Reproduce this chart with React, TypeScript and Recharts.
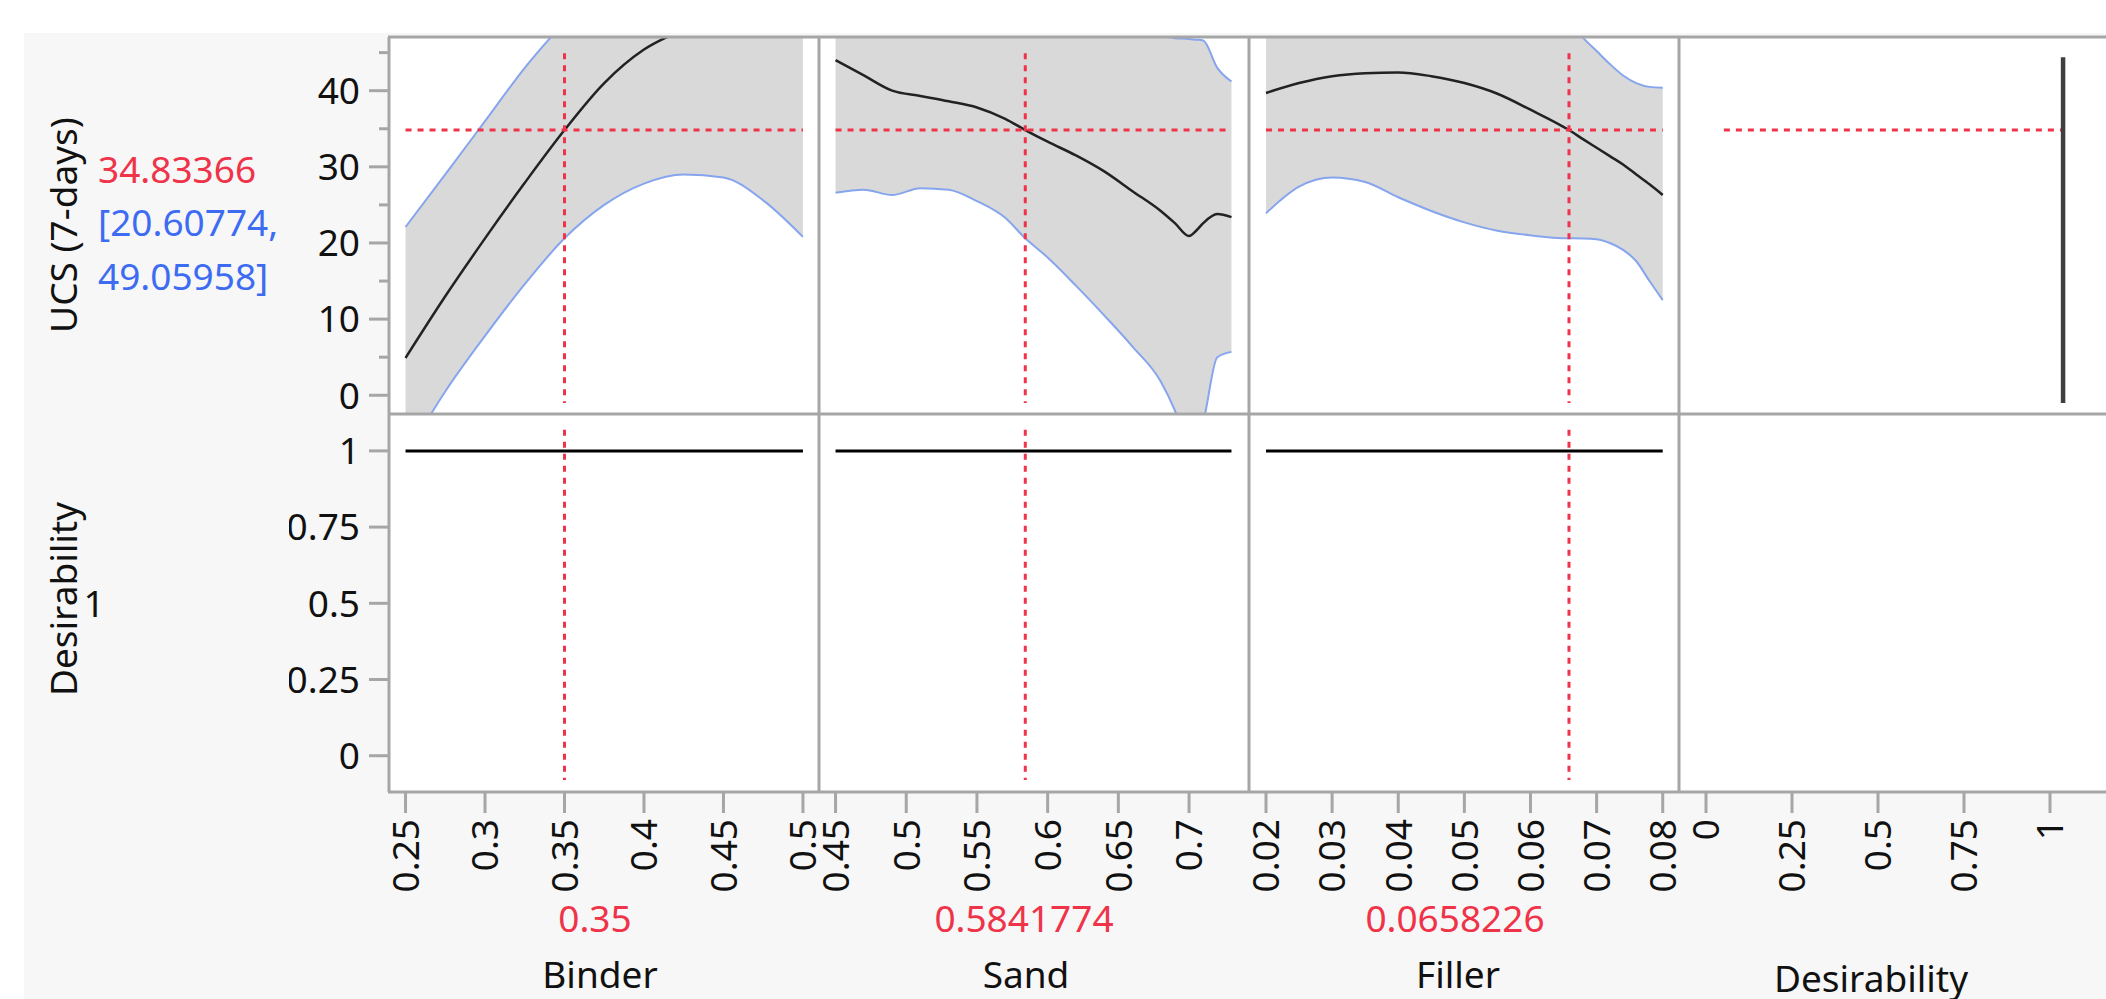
import React from 'react';
import { ComposedChart, Line, Area, XAxis, YAxis, ReferenceLine } from 'recharts';

// ---- profiler values ----
const binderX = [0.25, 0.275, 0.3, 0.325, 0.35, 0.375, 0.4, 0.425, 0.45, 0.475, 0.5];
const binderPred = [4.9, 13.0, 20.6, 27.9, 34.83, 41.0, 45.4, 48.0, 49.8, 50.8, 51.0];
const binderLower = [-8.0, 0.5, 7.8, 14.6, 20.61, 25.0, 27.8, 29.0, 28.6, 25.6, 20.8];
const binderUpper = [22.1, 29.0, 36.0, 43.0, 49.06, 55.0, 59.0, 62.0, 65.0, 70.0, 75.0];

const sandX = [0.45, 0.47, 0.49, 0.51, 0.53, 0.55, 0.57, 0.5841774, 0.6, 0.62, 0.64, 0.66, 0.68, 0.69, 0.7, 0.705, 0.71, 0.72, 0.73];
const sandPred = [44.0, 42.0, 40.0, 39.3, 38.6, 37.8, 36.3, 34.83, 33.3, 31.5, 29.4, 26.8, 24.2, 22.6, 20.9, 21.6, 22.6, 23.8, 23.4];
const sandLower = [26.6, 27.0, 26.3, 27.2, 27.0, 25.5, 23.3, 20.61, 18.1, 14.4, 10.5, 6.4, 1.8, -2.0, -7.0, -6.0, -3.5, 5.0, 5.7];
const sandUpper = [61.4, 57.0, 53.5, 51.5, 50.4, 50.0, 49.5, 49.06, 48.6, 48.3, 48.0, 47.7, 47.2, 46.9, 46.8, 46.7, 46.6, 43.0, 41.2];

const fillerX = [0.02, 0.025, 0.03, 0.035, 0.04, 0.045, 0.05, 0.055, 0.06, 0.0658226, 0.068, 0.07, 0.072, 0.074, 0.076, 0.078, 0.08];
const fillerPred = [39.7, 41.0, 41.9, 42.3, 42.4, 41.9, 41.0, 39.6, 37.5, 34.83, 33.6, 32.5, 31.4, 30.3, 29.0, 27.7, 26.3];
const fillerLower = [23.9, 27.4, 28.6, 28.0, 26.0, 24.2, 22.7, 21.6, 21.0, 20.61, 20.6, 20.5, 20.0, 19.1, 17.6, 15.0, 12.5];
const fillerUpper = [55.5, 56.0, 55.5, 56.0, 57.0, 58.0, 58.0, 56.0, 53.5, 49.06, 46.9, 45.2, 43.5, 42.0, 41.0, 40.5, 40.4];

// desirability of each factor across its range (flat at 1)
const binderDesir = [1, 1];
const sandDesir = [1, 1];
const fillerDesir = [1, 1];

// desirability function of the response (top right cell)
const desirFnD = [1.038, 1.038];
const desirFnUCS = [44.4, -1.0];

const predicted = 34.83366;
const ciLow = 20.60774;
const ciHigh = 49.05958;
const currentDesirability = 1;

const factorNames = ['Binder', 'Sand', 'Filler'];
const factorValues = [0.35, 0.5841774, 0.0658226];
const factorValueLabels = ['0.35', '0.5841774', '0.0658226'];

const binderTicks = [0.25, 0.3, 0.35, 0.4, 0.45, 0.5];
const sandTicks = [0.45, 0.5, 0.55, 0.6, 0.65, 0.7];
const fillerTicks = [0.02, 0.03, 0.04, 0.05, 0.06, 0.07, 0.08];
const desirTicks = [0, 0.25, 0.5, 0.75, 1];
const ucsTicks = [0, 5, 10, 15, 20, 25, 30, 35, 40, 45];
const ucsTickLabels: Record<number, string> = { 0: '0', 10: '10', 20: '20', 30: '30', 40: '40' };
const desirTickLabels: Record<number, string> = { 0: '0', 0.25: '0.25', 0.5: '0.5', 0.75: '0.75', 1: '1' };

// ---- look ----
const FONT = '"Noto Sans", "Open Sans", sans-serif';
const FS = 37;
const RED = '#ef3349';
const BLUE = '#3d6cf2';
const CI_BLUE = '#86a5ee';
const BAND = '#d9d9d9';
const GRID = '#a6a6a6';

const COL_LEFT = [389, 819, 1249, 1679];
const COL_W = 430;
const ROW_TOP = 37;
const ROW_MID = 414;
const ROW_BOT = 792;
const Y_AXIS_W = 100;
const X_AXIS_H = 130;

const TOP_DOMAIN: [number, number] = [-2.46, 47.05];
const BOT_DOMAIN: [number, number] = [-0.119, 1.121];
const xDomains: [number, number][] = [
  [0.2396, 0.5101],
  [0.4383, 0.7424],
  [0.01743, 0.08246],
  [-0.0785, 1.1715],
];

const LeftTick = (props: any) => {
  const { x, y, payload, labels } = props;
  const label = labels[payload.value];
  const len = label !== undefined ? 20 : 10;
  return (
    <g>
      <line x1={x - len} x2={x} y1={y} y2={y} stroke={GRID} strokeWidth={3} />
      {label !== undefined && (
        <text x={x - 29} y={y} dy="0.36em" textAnchor="end" fontSize={FS} fontFamily={FONT} fill="#111">
          {label}
        </text>
      )}
    </g>
  );
};

const BottomTick = (props: any) => {
  const { x, y, payload } = props;
  const ty = y + 27;
  return (
    <g>
      <line x1={x} x2={x} y1={y} y2={y + 21} stroke={GRID} strokeWidth={3} />
      <text
        x={x}
        y={ty}
        dy="0.36em"
        textAnchor="end"
        transform={`rotate(-90 ${x} ${ty})`}
        fontSize={FS}
        fontFamily={FONT}
        fill="#111"
      >
        {String(payload.value)}
      </text>
    </g>
  );
};

const makeRows = (xs: number[], pred: number[], lo: number[], hi: number[]) =>
  xs.map((x, i) => ({ x, pred: pred[i], lo: lo[i], hi: hi[i], band: [lo[i], hi[i]] }));

const factorRows = [
  makeRows(binderX, binderPred, binderLower, binderUpper),
  makeRows(sandX, sandPred, sandLower, sandUpper),
  makeRows(fillerX, fillerPred, fillerLower, fillerUpper),
];
const factorX = [binderX, sandX, fillerX];
const factorDesir = [binderDesir, sandDesir, fillerDesir];
const factorTicks = [binderTicks, sandTicks, fillerTicks, desirTicks];

const redDash = { stroke: RED, strokeWidth: 3, strokeDasharray: '6 6' };

const yAxisFor = (col: number, top: boolean) => (
  <YAxis
    type="number"
    domain={top ? TOP_DOMAIN : BOT_DOMAIN}
    allowDataOverflow
    hide={col !== 0}
    width={Y_AXIS_W}
    ticks={top ? ucsTicks : desirTicks}
    interval={0}
    tickSize={0}
    tickMargin={0}
    axisLine={false}
    tickLine={false}
    tick={(p: any) => <LeftTick {...p} labels={top ? ucsTickLabels : desirTickLabels} />}
  />
);

const xAxisFor = (col: number, top: boolean, key: string) => (
  <XAxis
    type="number"
    dataKey={key}
    domain={xDomains[col]}
    allowDataOverflow
    hide={top}
    height={X_AXIS_H}
    ticks={factorTicks[col]}
    interval={0}
    tickSize={0}
    tickMargin={0}
    axisLine={false}
    tickLine={false}
    tick={(p: any) => <BottomTick {...p} />}
  />
);

const chartBox = (col: number, top: boolean): React.CSSProperties => ({
  position: 'absolute',
  left: col === 0 ? COL_LEFT[0] - Y_AXIS_W : COL_LEFT[col],
  top: top ? ROW_TOP : ROW_MID,
});

const FactorTop = ({ col }: { col: number }) => {
  const xs = factorX[col];
  const w = COL_W + (col === 0 ? Y_AXIS_W : 0);
  return (
    <div style={chartBox(col, true)}>
      <ComposedChart width={w} height={ROW_MID - ROW_TOP} data={factorRows[col]} margin={{ top: 0, right: 0, bottom: 0, left: 0 }}>
        {xAxisFor(col, true, 'x')}
        {yAxisFor(col, true)}
        <Area dataKey="band" type="monotone" fill={BAND} fillOpacity={1} stroke="none" isAnimationActive={false} />
        <Line dataKey="lo" type="monotone" stroke={CI_BLUE} strokeWidth={2} dot={false} isAnimationActive={false} />
        <Line dataKey="hi" type="monotone" stroke={CI_BLUE} strokeWidth={2} dot={false} isAnimationActive={false} />
        <Line dataKey="pred" type="monotone" stroke="#222" strokeWidth={2.5} dot={false} isAnimationActive={false} />
        <ReferenceLine
          segment={[{ x: xs[0], y: predicted }, { x: xs[xs.length - 1], y: predicted }]}
          {...redDash}
        />
        <ReferenceLine
          segment={[{ x: factorValues[col], y: 44.9 }, { x: factorValues[col], y: -1.0 }]}
          {...redDash}
        />
      </ComposedChart>
    </div>
  );
};

const FactorBottom = ({ col }: { col: number }) => {
  const xs = factorX[col];
  const ends = [xs[0], xs[xs.length - 1]];
  const rows = ends.map((x, i) => ({ x, d: factorDesir[col][i] }));
  const w = COL_W + (col === 0 ? Y_AXIS_W : 0);
  return (
    <div style={chartBox(col, false)}>
      <ComposedChart width={w} height={ROW_BOT - ROW_MID + X_AXIS_H} data={rows} margin={{ top: 0, right: 0, bottom: 0, left: 0 }}>
        {xAxisFor(col, false, 'x')}
        {yAxisFor(col, false)}
        <Line dataKey="d" type="linear" stroke="#000" strokeWidth={3} dot={false} isAnimationActive={false} />
        <ReferenceLine
          segment={[{ x: factorValues[col], y: 1.069 }, { x: factorValues[col], y: -0.08 }]}
          {...redDash}
        />
      </ComposedChart>
    </div>
  );
};

const DesirTop = () => {
  const rows = desirFnD.map((d, i) => ({ d, v: desirFnUCS[i] }));
  return (
    <div style={chartBox(3, true)}>
      <ComposedChart width={COL_W} height={ROW_MID - ROW_TOP} data={rows} margin={{ top: 0, right: 0, bottom: 0, left: 0 }}>
        {xAxisFor(3, true, 'd')}
        {yAxisFor(3, true)}
        <ReferenceLine segment={[{ x: 0.052, y: predicted }, { x: 1.035, y: predicted }]} {...redDash} />
        <Line dataKey="v" type="linear" stroke="#3f3f3f" strokeWidth={4.5} dot={false} isAnimationActive={false} />
      </ComposedChart>
    </div>
  );
};

const DesirBottom = () => (
  <div style={chartBox(3, false)}>
    <ComposedChart width={COL_W} height={ROW_BOT - ROW_MID + X_AXIS_H} data={[]} margin={{ top: 0, right: 0, bottom: 0, left: 0 }}>
      {xAxisFor(3, false, 'd')}
      {yAxisFor(3, false)}
    </ComposedChart>
  </div>
);

const labelCenters = [595, 1024, 1455];
const nameCenters = [600, 1026, 1458];

export default function App() {
  const txt = { fontFamily: FONT, fontSize: FS };
  return (
    <div style={{ position: 'absolute', left: 0, top: 0, width: 2106, height: 999, overflow: 'hidden', background: '#fff' }}>
      <div style={{ position: 'absolute', left: 24, top: 33, width: 2082, height: 966, background: '#f7f7f7' }} />
      <div style={{ position: 'absolute', left: COL_LEFT[0], top: ROW_TOP, width: 2106 - COL_LEFT[0], height: ROW_BOT - ROW_TOP, background: '#fff' }} />

      {[0, 1, 2].map((c) => <FactorTop key={`t${c}`} col={c} />)}
      {[0, 1, 2].map((c) => <FactorBottom key={`b${c}`} col={c} />)}
      <DesirTop />
      <DesirBottom />

      <svg width={2106} height={999} style={{ position: 'absolute', left: 0, top: 0, pointerEvents: 'none' }}>
        {/* panel frame */}
        <line x1={COL_LEFT[0] - 1} x2={2106} y1={ROW_TOP} y2={ROW_TOP} stroke={GRID} strokeWidth={3} />
        <line x1={COL_LEFT[0] - 1} x2={2106} y1={ROW_MID} y2={ROW_MID} stroke={GRID} strokeWidth={3} />
        <line x1={COL_LEFT[0] - 1} x2={2106} y1={ROW_BOT} y2={ROW_BOT} stroke={GRID} strokeWidth={3} />
        {COL_LEFT.map((x) => (
          <line key={x} x1={x} x2={x} y1={ROW_TOP} y2={ROW_BOT} stroke={GRID} strokeWidth={3} />
        ))}

        {/* response label + current prediction */}
        <text x={77} y={225} transform="rotate(-90 77 225)" textAnchor="middle" {...txt} fill="#111">UCS (7-days)</text>
        <text x={98} y={183} {...txt} fill={RED}>{predicted.toFixed(5)}</text>
        <text x={98} y={236} {...txt} fill={BLUE}>{`[${ciLow.toFixed(5)},`}</text>
        <text x={98} y={290} {...txt} fill={BLUE}>{`${ciHigh.toFixed(5)}]`}</text>

        <text x={77} y={599} transform="rotate(-90 77 599)" textAnchor="middle" {...txt} fill="#111">Desirability</text>
        <text x={94} y={617} textAnchor="middle" {...txt} fill="#111">{String(currentDesirability)}</text>

        {factorNames.map((n, i) => (
          <g key={n}>
            <text x={labelCenters[i]} y={932} textAnchor="middle" {...txt} fill={RED}>{factorValueLabels[i]}</text>
            <text x={nameCenters[i]} y={988} textAnchor="middle" {...txt} fill="#111">{n}</text>
          </g>
        ))}
        <text x={1871} y={992} textAnchor="middle" {...txt} fill="#111">Desirability</text>
      </svg>
    </div>
  );
}
